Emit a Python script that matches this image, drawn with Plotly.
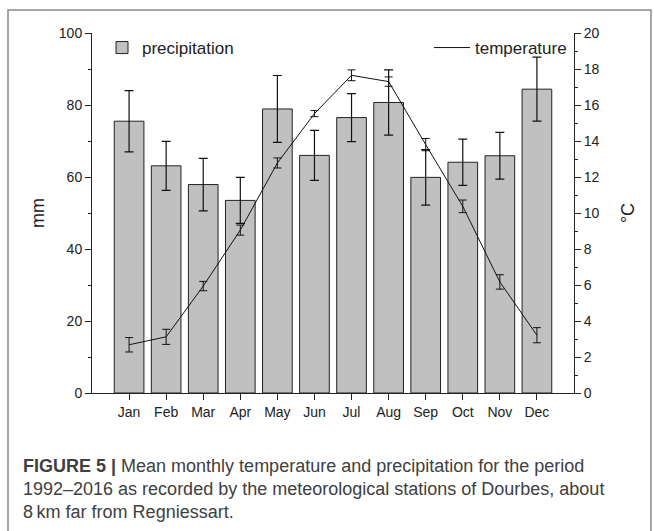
import plotly.graph_objects as go

months = ["Jan", "Feb", "Mar", "Apr", "May", "Jun", "Jul", "Aug", "Sep", "Oct", "Nov", "Dec"]
precip_mm = [75.5, 63.1, 57.9, 53.5, 78.9, 66.0, 76.5, 80.7, 59.9, 64.1, 65.9, 84.4]
precip_err = [8.5, 6.8, 7.3, 6.4, 9.3, 6.95, 6.65, 9.05, 7.7, 6.4, 6.5, 8.9]
temp_c = [2.68, 3.12, 5.94, 9.05, 12.78, 15.52, 17.65, 17.3, 13.8, 10.37, 6.17, 3.21]
temp_err = [0.4, 0.42, 0.26, 0.28, 0.28, 0.17, 0.3, 0.26, 0.34, 0.35, 0.4, 0.42]

caption_lines = [
    "<b>FIGURE 5 |</b> Mean monthly temperature and precipitation for the period",
    "1992–2016 as recorded by the meteorological stations of Dourbes, about",
    "8\u2009km far from Regniessart.",
]

FONT = "Liberation Sans, Arial, sans-serif"
W, H = 654, 531
L, R, T, B = 92, 80, 33, 138
PW, PH = W - L - R, H - T - B


def px_x(px):
    return (px - L) / PW


def px_y(py):
    return (T + PH - py) / PH


fig = go.Figure()
fig.add_trace(go.Bar(
    x=months, y=precip_mm, name="precipitation",
    marker=dict(color="#c0c0c0", line=dict(color="#222222", width=1)),
    width=0.8,
    error_y=dict(type="data", array=precip_err, color="#111111", thickness=1.2, width=4.5),
    legend="legend",
))
fig.add_trace(go.Scatter(
    x=months, y=temp_c, name="temperature", mode="lines", yaxis="y2",
    line=dict(color="#111111", width=1),
    error_y=dict(type="data", array=temp_err, color="#111111", thickness=1, width=4),
    legend="legend2",
))

tickfont = dict(family=FONT, size=14, color="#222222")
fig.update_layout(
    width=W, height=H,
    margin=dict(l=L, r=R, t=T, b=B, pad=0),
    paper_bgcolor="white", plot_bgcolor="white",
    font=dict(family=FONT, color="#222222"),
    bargap=0.2,
    xaxis=dict(
        type="category", range=[-1, 12], showgrid=False, zeroline=False,
        showline=True, linecolor="#222222", linewidth=1,
        ticks="outside", ticklen=6, tickcolor="#222222", tickwidth=1,
        tickfont=tickfont,
    ),
    yaxis=dict(
        range=[0, 100], tickvals=[0, 20, 40, 60, 80, 100], showgrid=False, zeroline=False,
        showline=True, linecolor="#222222", linewidth=1,
        ticks="outside", ticklen=6, tickcolor="#222222", tickwidth=1,
        minor=dict(tickvals=[10, 30, 50, 70, 90], ticks="outside", ticklen=3, tickcolor="#222222"),
        tickfont=tickfont,
        title=dict(text="mm", font=dict(family=FONT, size=18, color="#222222"), standoff=9),
    ),
    yaxis2=dict(
        range=[0, 20], tickvals=list(range(0, 21, 2)), overlaying="y", side="right",
        showgrid=False, zeroline=False,
        showline=True, linecolor="#222222", linewidth=1,
        ticks="outside", ticklen=6, tickcolor="#222222", tickwidth=1,
        minor=dict(tickvals=list(range(1, 20, 2)), ticks="outside", ticklen=3, tickcolor="#222222"),
        tickfont=tickfont,
        title=dict(text="°C", font=dict(family=FONT, size=18, color="#222222"), standoff=22),
    ),
    legend=dict(
        x=px_x(102), y=px_y(30), xanchor="left", yanchor="top",
        bgcolor="rgba(0,0,0,0)", font=dict(family=FONT, size=17, color="#222222"),
        itemwidth=30,
    ),
    legend2=dict(
        x=px_x(572), y=px_y(30), xanchor="right", yanchor="top",
        bgcolor="rgba(0,0,0,0)", font=dict(family=FONT, size=17, color="#222222"),
        itemwidth=36,
    ),
    showlegend=True,
)

# figure frame (open at the bottom)
fig.add_shape(type="path", xref="paper", yref="paper",
              path=f"M {px_x(8)},{px_y(540)} L {px_x(8)},{px_y(10)} L {px_x(651)},{px_y(10)} L {px_x(651)},{px_y(540)}",
              line=dict(color="#8a8a8a", width=1.5))

for i, (line, yc) in enumerate(zip(caption_lines, [466, 489, 512])):
    fig.add_annotation(text=line, xref="paper", yref="paper", x=px_x(21), y=px_y(yc),
                       xanchor="left", yanchor="middle", showarrow=False,
                       font=dict(family=FONT, size=18, color="#404040"), align="left")

fig.write_html("out.html", config={"displayModeBar": False},
               post_script="document.body.style.margin='0';")
